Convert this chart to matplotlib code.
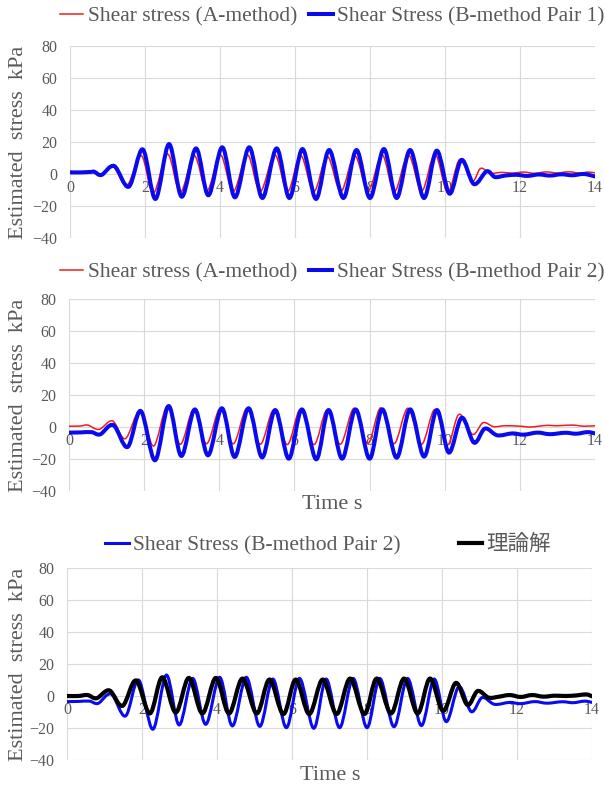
#!/usr/bin/env python3
"""plot: estimated shear stress time histories, three stacked panels"""

import matplotlib

matplotlib.use("Agg")
import matplotlib.pyplot as plt
from matplotlib.patches import PathPatch
from matplotlib.path import Path

SERIF = "Liberation Serif"
GREY = "#595959"
RED = "#ee1c1c"
BLUE = "#0a0af0"

# A-method vs B-method pair 1 (turning points of each record)
t_a1 = [0.0, 0.3, 0.55, 0.82, 1.15, 1.52, 1.90, 2.22, 2.60, 2.94, 3.31, 3.65, 4.01, 4.35,
        4.73, 5.07, 5.46, 5.80, 6.15, 6.50, 6.86, 7.22, 7.59, 7.95, 8.32, 8.65, 9.02, 9.38,
        9.73, 10.07, 10.39, 10.72, 10.95, 11.2, 11.5, 11.8, 12.1, 12.4, 12.7, 13.0, 13.3,
        13.6, 13.8, 14.0]
v_a1 = [1.5, 1.4, 1.6, -0.4, 4.5, -7.0, 11.5, -12.0, 12.5, -11.5, 11.5, -10.5, 12.0, -11.0,
        12.0, -11.0, 12.0, -11.0, 11.5, -11.0, 11.0, -11.0, 11.5, -10.5, 12.0, -11.0, 12.0,
        -10.5, 12.5, -11.5, 9.0, -4.5, 3.5, 0.5, 1.0, 0.6, 1.2, 0.4, 1.3, 0.6, 1.4, 0.5,
        1.2, 0.8]
t_b1 = [0.0, 0.3, 0.55, 0.65, 0.84, 1.18, 1.57, 1.94, 2.28, 2.64, 2.98, 3.36, 3.69, 4.06,
        4.40, 4.78, 5.13, 5.51, 5.85, 6.20, 6.56, 6.91, 7.29, 7.64, 8.00, 8.37, 8.71, 9.07,
        9.44, 9.78, 10.12, 10.44, 10.77, 11.11, 11.33, 11.6, 11.9, 12.2, 12.5, 12.8, 13.1,
        13.4, 13.7, 14.0]
v_b1 = [1.0, 1.0, 1.3, 1.4, -0.6, 5.0, -7.9, 15.4, -15.6, 18.7, -14.2, 16.0, -13.3, 16.7,
        -14.6, 16.7, -15.0, 16.0, -15.0, 15.6, -15.6, 15.0, -15.0, 15.0, -15.0, 15.6, -15.0,
        15.0, -15.0, 14.6, -12.3, 8.8, -6.3, 1.7, -1.9, -1.0, -0.5, -1.2, -0.3, -1.0, -0.2,
        -0.8, 0.0, -1.5]

# A-method vs B-method pair 2
t_a2 = [0.0, 0.3, 0.5, 0.8, 1.16, 1.50, 1.90, 2.25, 2.62, 2.96, 3.32, 3.66, 4.03, 4.37,
        4.74, 5.09, 5.45, 5.81, 6.16, 6.52, 6.87, 7.22, 7.59, 7.95, 8.30, 8.65, 9.02, 9.38,
        9.74, 10.07, 10.38, 10.74, 11.02, 11.3, 11.6, 12.0, 12.3, 12.7, 13.0, 13.4, 13.7,
        14.0]
v_a2 = [0.5, 0.6, 1.2, -1.5, 3.8, -7.3, 10.6, -11.9, 13.1, -10.8, 11.0, -10.5, 11.7, -10.5,
        11.7, -10.8, 10.6, -11.0, 11.0, -11.0, 10.6, -10.8, 11.7, -10.4, 12.0, -10.4, 11.7,
        -10.8, 11.0, -11.2, 7.9, -4.6, 2.7, 0.2, 0.8, 0.5, 0.0, 1.0, 0.8, 1.2, 0.5, 0.8]
t_b2 = [0.0, 0.3, 0.6, 0.83, 1.18, 1.56, 1.91, 2.29, 2.65, 2.99, 3.35, 3.70, 4.07, 4.41,
        4.78, 5.14, 5.49, 5.85, 6.20, 6.58, 6.91, 7.27, 7.63, 8.00, 8.34, 8.72, 9.08, 9.45,
        9.79, 10.11, 10.45, 10.78, 11.07, 11.40, 11.8, 12.1, 12.47, 12.8, 13.2, 13.5, 13.8,
        14.0]
v_b2 = [-3.5, -3.4, -3.2, -4.6, 1.2, -12.5, 10.0, -20.8, 13.1, -18.1, 11.0, -17.7, 11.7,
        -18.7, 11.7, -19.0, 10.6, -19.8, 11.0, -20.2, 10.6, -19.8, 11.0, -19.8, 11.0, -19.2,
        11.0, -18.5, 10.6, -16.0, 5.8, -9.8, -1.0, -5.2, -4.0, -4.8, -3.5, -4.5, -3.6, -4.2,
        -3.2, -4.0]

# theoretical solution
t_th = [0.0, 0.3, 0.55, 0.79, 1.13, 1.48, 1.84, 2.21, 2.54, 2.90, 3.25, 3.61, 3.97, 4.32,
        4.68, 5.06, 5.40, 5.77, 6.10, 6.46, 6.82, 7.19, 7.55, 7.93, 8.26, 8.64, 8.99, 9.35,
        9.68, 10.03, 10.37, 10.68, 10.95, 11.24, 11.5, 11.8, 12.1, 12.4, 12.7, 13.0, 13.3,
        13.6, 13.85, 14.0]
v_th = [0.0, 0.0, 0.6, -1.4, 3.5, -6.2, 9.7, -10.9, 11.7, -10.3, 11.3, -10.9, 11.3, -10.9,
        10.9, -10.9, 10.3, -11.3, 10.3, -11.3, 10.3, -11.3, 10.9, -11.3, 10.9, -10.9, 10.9,
        -10.9, 10.9, -9.3, 8.2, -5.6, 3.1, -1.0, -0.5, 0.6, -0.6, 0.6, -0.4, 0.2, 0.0, 0.4,
        1.0, -0.2]

label_a = "Shear stress (A-method)"
label_b1 = "Shear Stress (B-method Pair 1)"
label_b2 = "Shear Stress (B-method Pair 2)"
label_th = "理論解"
y_label = "Estimated  stress  kPa"
x_label = "Time s"
x_ticks = [0, 2, 4, 6, 8, 10, 12, 14]
y_ticks = [-40, -20, 0, 20, 40, 60, 80]

W, H = 605, 789


def smooth_path(t, v):
    """smooth_path: Catmull-Rom style bezier through the points (Excel smoothed line)"""
    pts = list(zip(t, v))
    n = len(pts)
    verts = [pts[0]]
    codes = [Path.MOVETO]
    for i in range(n - 1):
        p0 = pts[max(i - 1, 0)]
        p1 = pts[i]
        p2 = pts[i + 1]
        p3 = pts[min(i + 2, n - 1)]
        c1 = (p1[0] + (p2[0] - p0[0]) / 6.0, p1[1] + (p2[1] - p0[1]) / 6.0)
        c2 = (p2[0] - (p3[0] - p1[0]) / 6.0, p2[1] - (p3[1] - p1[1]) / 6.0)
        verts += [c1, c2, p2]
        codes += [Path.CURVE4] * 3
    return Path(verts, codes)


def draw_series(ax, t, v, color, lw, label):
    """draw_series: smoothed line plus a legend proxy"""
    patch = PathPatch(smooth_path(t, v), fill=False, edgecolor=color, lw=lw,
                      joinstyle="round", capstyle="round", zorder=3)
    ax.add_patch(patch)
    ax.plot([], [], color=color, lw=lw, label=label)


def style_axes(ax):
    """style_axes: grid box, tick labels on the zero line"""
    ax.set_xlim(0, 14)
    ax.set_ylim(-40, 80)
    ax.set_xticks(x_ticks)
    ax.set_yticks(y_ticks)
    ax.set_axisbelow(True)
    ax.grid(True, color="#d9d9d9", lw=0.8)
    for s in ax.spines.values():
        s.set_color("none")
    ax.spines["bottom"].set_position(("data", 0))
    ax.tick_params(axis="both", length=0, labelcolor=GREY, labelsize=11.5)
    ax.tick_params(axis="x", pad=4)
    ax.tick_params(axis="y", pad=9)
    for lab in ax.get_xticklabels() + ax.get_yticklabels():
        lab.set_fontfamily(SERIF)


def add_axes(fig, x0, x1, y_top, y_bot):
    """add_axes: axes from pixel box"""
    return fig.add_axes([x0 / W, 1 - y_bot / H, (x1 - x0) / W, (y_bot - y_top) / H])


def add_legend(fig, ax, y, xc, colspace):
    """add_legend: legend row above a panel"""
    ax.legend(loc="center", bbox_to_anchor=(xc / W, 1 - y / H), bbox_transform=fig.transFigure,
              ncol=2, frameon=False, handlelength=1.1, handletextpad=0.2,
              columnspacing=colspace, labelcolor=GREY,
              prop={"family": [SERIF, "Noto Sans CJK JP"], "size": 15.5})


def main():
    """main: execution block"""
    fig = plt.figure(figsize=(W / 100, H / 100), dpi=100)
    fig.patch.set_facecolor("white")

    ax1 = add_axes(fig, 70, 595, 46, 238)
    style_axes(ax1)
    draw_series(ax1, t_a1, v_a1, RED, 1.1, label_a)
    draw_series(ax1, t_b1, v_b1, BLUE, 2.9, label_b1)
    add_legend(fig, ax1, 16, 332, 0.55)

    ax2 = add_axes(fig, 69, 595, 299, 491)
    style_axes(ax2)
    draw_series(ax2, t_a2, v_a2, RED, 1.1, label_a)
    draw_series(ax2, t_b2, v_b2, BLUE, 2.9, label_b2)
    add_legend(fig, ax2, 272, 332, 0.55)

    ax3 = add_axes(fig, 67, 592, 568, 760)
    style_axes(ax3)
    draw_series(ax3, t_b2, v_b2, BLUE, 2.2, label_b2)
    draw_series(ax3, t_th, v_th, "black", 3.0, label_th)
    add_legend(fig, ax3, 545, 328, 2.7)

    for ax, y_mid in ((ax1, 142), (ax2, 395), (ax3, 664)):
        fig.text(19 / W, 1 - y_mid / H, y_label, rotation=90, ha="center", va="center",
                 family=SERIF, size=16, color=GREY)
    fig.text(332 / W, 1 - 505 / H, x_label, ha="center", va="center", family=SERIF,
             size=16, color=GREY)
    fig.text(330 / W, 1 - 775 / H, x_label, ha="center", va="center", family=SERIF,
             size=16, color=GREY)

    fig.savefig("out.png", dpi=100)
    plt.close(fig)


if __name__ == "__main__":
    main()
